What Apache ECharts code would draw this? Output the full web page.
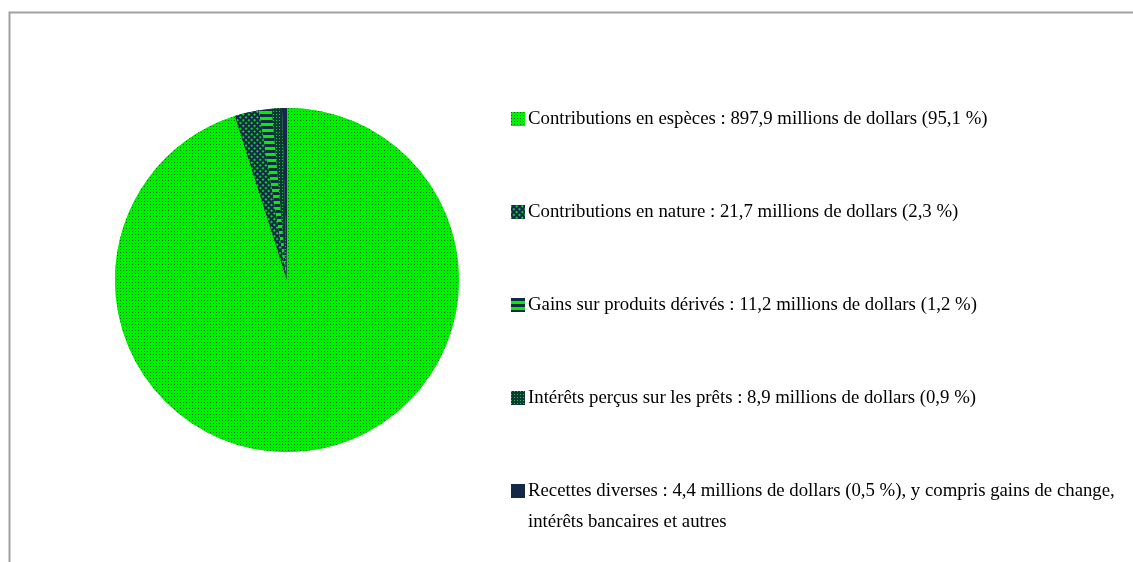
<!DOCTYPE html>
<html>
<head>
<meta charset="utf-8">
<script src="https://cdn.jsdelivr.net/npm/echarts@6/dist/echarts.min.js"></script>
<style>
  html, body { margin: 0; padding: 0; background: #fff; }
  #main { width: 1133px; height: 562px; }
</style>
</head>
<body>
<div id="main"></div>
<script>
// données du graphique
var labels = [
  'Contributions en espèces : 897,9 millions de dollars (95,1 %)',
  'Contributions en nature : 21,7 millions de dollars (2,3 %)',
  'Gains sur produits dérivés : 11,2 millions de dollars (1,2 %)',
  'Intérêts perçus sur les prêts : 8,9 millions de dollars (0,9 %)',
  'Recettes diverses : 4,4 millions de dollars (0,5 %), y compris gains de change,\nintérêts bancaires et autres'
];
var values = [897.9, 21.7, 11.2, 8.9, 4.4];

var navy = '#14294a';
var green = '#00f000';
var font = 'Liberation Serif';

// motifs de remplissage
var styles = [
  { color: green, decal: { symbol: 'rect', symbolSize: 1, dashArrayX: [1, 2], dashArrayY: [1, 2], color: 'rgba(10,50,50,0.75)', backgroundColor: green } },
  { color: navy, decal: { symbol: 'rect', symbolSize: 1, dashArrayX: [2, 2], dashArrayY: [2, 2], rotation: Math.PI / 4, color: '#11cc22', backgroundColor: navy } },
  { color: green, decal: { symbol: 'rect', symbolSize: 1, dashArrayX: [1, 0], dashArrayY: [3, 3], color: navy, backgroundColor: green } },
  { color: '#0a6a2a', decal: { symbol: 'rect', symbolSize: 1, dashArrayX: [1, 2], dashArrayY: [1, 2], color: '#20c040', backgroundColor: '#0b3a30' } },
  { color: navy }
];

var data = values.map(function (v, i) {
  return { name: labels[i], value: v, itemStyle: styles[i] };
});

var chart = echarts.init(document.getElementById('main'), null, { renderer: 'canvas' });
chart.setOption({
  backgroundColor: '#fff',
  animation: false,
  graphic: [{
    type: 'rect',
    shape: { x: 9.5, y: 12.5, width: 1200, height: 600 },
    style: { fill: 'none', stroke: '#a0a0a0', lineWidth: 2 },
    silent: true
  }, {
    type: 'text',
    left: 528,
    top: 513,
    silent: true,
    style: { text: labels[4].split('\n')[1], font: '18.8px "Liberation Serif"', fill: '#000' }
  }],
  legend: {
    orient: 'vertical',
    left: 506,
    top: 103,
    data: labels,
    icon: 'rect',
    itemWidth: 14,
    itemHeight: 14,
    itemGap: 71,
    selectedMode: false,
    formatter: function (name) { return name.split('\n')[0]; },
    textStyle: { fontFamily: font, fontSize: 18.8, color: '#000', lineHeight: 22, padding: [0, 0, 0, -2] }
  },
  series: [{
    type: 'pie',
    center: [287, 280],
    radius: 172,
    startAngle: 90,
    clockwise: true,
    label: { show: false },
    labelLine: { show: false },
    silent: true,
    itemStyle: { borderWidth: 0 },
    data: data
  }]
});
</script>
</body>
</html>
